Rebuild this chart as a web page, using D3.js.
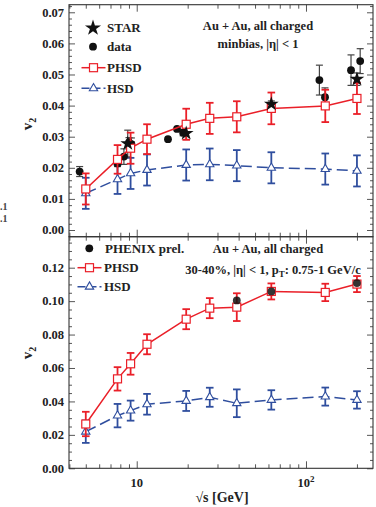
<!DOCTYPE html>
<html><head><meta charset="utf-8">
<script src="https://cdn.jsdelivr.net/npm/d3@7"></script>
<style>
html,body{margin:0;padding:0;background:#fff;}
svg{display:block;}
text{font-family:"Liberation Serif","Times New Roman",serif;font-weight:bold;fill:#222;}
</style></head>
<body>
<svg id="c" width="376" height="507"></svg>
<script>
// ---------- data ----------
const energies = [5, 7.7, 9.2, 11.5, 19.6, 27, 39, 62.4, 130, 200];
// top panel (minbias)
const topPHSD = [0.0132, 0.0227, 0.0263, 0.0292, 0.0340, 0.0359, 0.0364, 0.0391, 0.0399, 0.0423];
const topPHSDerr = [0.005, 0.0046, 0.005, 0.0048, 0.005, 0.005, 0.005, 0.0051, 0.0052, 0.005];
const topHSD = [0.0118, 0.0163, 0.0182, 0.0193, 0.0209, 0.0211, 0.0207, 0.0200, 0.0196, 0.0190];
const topHSDerr = [0.005, 0.0047, 0.005, 0.005, 0.005, 0.0051, 0.005, 0.005, 0.005, 0.005];
const dataE = [4.6, 7.7, 8.4, 9.0, 9.3, 15.3, 17.3, 18.8, 120, 129.5, 184.5, 209];
const dataV = [0.0188, 0.0214, 0.0236, 0.0282, 0.0276, 0.0292, 0.0325, 0.0313, 0.0482, 0.0427, 0.0514, 0.0543];
const dataErr = [0.0016, 0.001, 0.0025, 0.0015, 0.002, 0, 0, 0.001, 0.0048, 0.003, 0.0049, 0.004];
const starE = [8.85, 19.6, 62.4, 200];
const starV = [0.0278, 0.0311, 0.0405, 0.0485];
const starErr = [0.0043, 0.002, 0.001, 0.002];
// bottom panel (30-40%)
const botPHSD = [0.0265, 0.0535, 0.0625, 0.0742, 0.0892, 0.0958, 0.0964, 0.1058, 0.1052, 0.1102];
const botPHSDerr = [0.0073, 0.007, 0.0065, 0.006, 0.006, 0.006, 0.0083, 0.0048, 0.0052, 0.0048];
const botHSD = [0.0219, 0.0315, 0.0345, 0.0383, 0.0403, 0.0425, 0.0389, 0.0409, 0.0429, 0.0409];
const botHSDerr = [0.0067, 0.007, 0.006, 0.0062, 0.006, 0.0057, 0.0083, 0.0058, 0.0054, 0.0052];
const phenixE = [39, 62.4, 200];
const phenixV = [0.1004, 0.1058, 0.1108];
const topYTicks = [0, 0.01, 0.02, 0.03, 0.04, 0.05, 0.06, 0.07];
const botYTicks = [0, 0.02, 0.04, 0.06, 0.08, 0.10, 0.12];
const xLabels = [{v: 10, t: "10"}, {v: 100, t: "10", sup: "2"}];

// ---------- layout ----------
const RED = "#ea1f28", BLUE = "#2f4e9e";
const L = 69, R = 373;
const svg = d3.select("#c");
const x = d3.scaleLog().domain([3.98, 248.8]).range([L, R]);
const yTop = d3.scaleLinear().domain([-0.00215, 0.07244]).range([236.7, 4.7]);
const yBot = d3.scaleLinear().domain([0, 0.13854]).range([468.3, 236.7]);

const xMinor = [4,5,6,7,8,9,20,30,40,50,60,70,80,90,200];
const xMajor = [10, 100];

function frame(y, majors, minorStep, fmt) {
  const g = svg.append("g");
  const yMinor = d3.range(0, y.domain()[1], minorStep)
    .filter(v => !majors.some(m => Math.abs(m - v) < 1e-9));
  g.append("g").attr("transform", `translate(${L},0)`)
    .call(d3.axisRight(y).tickValues(yMinor).tickSize(3).tickFormat(""));
  g.append("g").attr("transform", `translate(${L},0)`)
    .call(d3.axisRight(y).tickValues(majors).tickSize(6).tickFormat(""));
  g.append("g").attr("transform", `translate(${R},0)`)
    .call(d3.axisLeft(y).tickValues(yMinor).tickSize(3).tickFormat(""));
  g.append("g").attr("transform", `translate(${R},0)`)
    .call(d3.axisLeft(y).tickValues(majors).tickSize(6).tickFormat(""));
  const by = y.range()[0], ty = y.range()[1];
  g.append("g").attr("transform", `translate(0,${by})`)
    .call(d3.axisTop(x).tickValues(xMinor).tickSize(4).tickFormat(""));
  g.append("g").attr("transform", `translate(0,${by})`)
    .call(d3.axisTop(x).tickValues(xMajor).tickSize(7).tickFormat(""));
  g.append("g").attr("transform", `translate(0,${ty})`)
    .call(d3.axisBottom(x).tickValues(xMinor).tickSize(4).tickFormat(""));
  g.append("g").attr("transform", `translate(0,${ty})`)
    .call(d3.axisBottom(x).tickValues(xMajor).tickSize(7).tickFormat(""));
  g.selectAll(".domain").remove();
  g.selectAll(".tick line").attr("stroke", "#444").attr("stroke-width", 0.9);
  g.append("rect").attr("x", L).attr("y", ty).attr("width", R - L).attr("height", by - ty)
    .attr("fill", "none").attr("stroke", "#333").attr("stroke-width", 1.1);
  g.selectAll("text.yl").data(majors).enter().append("text")
    .attr("x", L - 5).attr("y", d => y(d) + 4.3).attr("text-anchor", "end")
    .attr("font-size", 12.5).text(d => d3.format(fmt)(d));
}

frame(yTop, topYTicks, 0.002, ".2f");
frame(yBot, botYTicks, 0.005, ".2f");

xLabels.forEach(d => {
  const t = svg.append("text").attr("x", x(d.v)).attr("y", 487).attr("text-anchor", "middle")
    .attr("font-size", 12.5).text(d.t);
  if (d.sup) t.append("tspan").attr("dy", -5).attr("font-size", 9).text(d.sup);
});
svg.append("text").attr("x", 222).attr("y", 502).attr("text-anchor", "middle")
  .attr("font-size", 14).text("√s  [GeV]");

function yTitle(cy) {
  const t = svg.append("text").attr("transform", `translate(32,${cy}) rotate(-90)`)
    .attr("text-anchor", "middle").attr("font-size", 15).attr("font-weight", "normal");
  t.append("tspan").text("v");
  t.append("tspan").attr("dy", 4).attr("font-size", 10).text("2");
}
yTitle(124);
yTitle(353);

// leftover fragments at the left edge of the page
[209.5, 221.5].forEach(yy => svg.append("text").attr("x", 0).attr("y", yy).attr("font-size", 10)
  .attr("font-weight", "normal").attr("font-family", "DejaVu Sans").style("fill", "#444").text(".1"));

// ---------- helpers ----------
function errBars(g, xs, vs, es, y, color, cap, w) {
  xs.forEach((e, i) => {
    if (!es[i]) return;
    const cx = x(e), y1 = y(vs[i] - es[i]), y2 = y(vs[i] + es[i]);
    g.append("line").attr("x1", cx).attr("x2", cx).attr("y1", y1).attr("y2", y2)
      .attr("stroke", color).attr("stroke-width", w);
    [y1, y2].forEach(yy => g.append("line").attr("x1", cx - cap).attr("x2", cx + cap)
      .attr("y1", yy).attr("y2", yy).attr("stroke", color).attr("stroke-width", w));
  });
}
function model(y, vals, errs, color, kind) {
  const g = svg.append("g");
  errBars(g, energies, vals, errs, y, color, 3.8, 1.8);
  const line = d3.line().x((d, i) => x(energies[i])).y(d => y(d));
  g.append("path").attr("d", line(vals)).attr("fill", "none").attr("stroke", color)
    .attr("stroke-width", 1.5).attr("stroke-dasharray", kind === "tri" ? "11,5" : null);
  vals.forEach((v, i) => {
    if (kind === "sq") {
      g.append("rect").attr("x", x(energies[i]) - 4).attr("y", y(v) - 4).attr("width", 8).attr("height", 8)
        .attr("fill", "#fff").attr("stroke", color).attr("stroke-width", 1.2);
    } else {
      g.append("path").attr("d", d3.symbol().type(d3.symbolTriangle).size(30)())
        .attr("transform", `translate(${x(energies[i])},${y(v)})`)
        .attr("fill", "#fff").attr("stroke", color).attr("stroke-width", 1.1);
    }
  });
}

// ---------- top panel ----------
model(yTop, topHSD, topHSDerr, BLUE, "tri");
const gd = svg.append("g");
errBars(gd, dataE, dataV, dataErr, yTop, "#444", 3.5, 1.2);
errBars(gd, starE, starV, starErr, yTop, "#444", 3.5, 1.2);
dataE.forEach((e, i) => gd.append("circle").attr("cx", x(e)).attr("cy", yTop(dataV[i])).attr("r", 3.9).attr("fill", "#111"));
model(yTop, topPHSD, topPHSDerr, RED, "sq");
const starPath = d3.symbol().type(d3.symbolStar).size(68)();
starE.forEach((e, i) => svg.append("path").attr("d", starPath)
  .attr("transform", `translate(${x(e)},${yTop(starV[i])})`).attr("fill", "#111"));

// ---------- bottom panel ----------
model(yBot, botHSD, botHSDerr, BLUE, "tri");
model(yBot, botPHSD, botPHSDerr, RED, "sq");
phenixE.forEach((e, i) => svg.append("circle").attr("cx", x(e)).attr("cy", yBot(phenixV[i])).attr("r", 3.9)
  .attr("fill", "#111").attr("fill-opacity", 0.85));

// ---------- legends ----------
function legLine(cx, cy, color, kind) {
  svg.append("line").attr("x1", cx - 12).attr("x2", cx + 12).attr("y1", cy).attr("y2", cy)
    .attr("stroke", color).attr("stroke-width", 1.5).attr("stroke-dasharray", kind === "tri" ? "8,3" : null);
  if (kind === "sq") svg.append("rect").attr("x", cx - 4).attr("y", cy - 4).attr("width", 8).attr("height", 8)
    .attr("fill", "#fff").attr("stroke", color).attr("stroke-width", 1.2);
  else svg.append("path").attr("d", d3.symbol().type(d3.symbolTriangle).size(30)())
    .attr("transform", `translate(${cx},${cy})`).attr("fill", "#fff").attr("stroke", color).attr("stroke-width", 1.1);
}
function legText(tx, ty, s) { svg.append("text").attr("x", tx).attr("y", ty).attr("font-size", 13).text(s); }
svg.append("path").attr("d", d3.symbol().type(d3.symbolStar).size(80)()).attr("transform", "translate(93,28)").attr("fill", "#111");
legText(107, 32, "STAR");
svg.append("circle").attr("cx", 93).attr("cy", 46.7).attr("r", 3.9).attr("fill", "#111");
legText(107, 51, "data");
legLine(93.5, 67.7, RED, "sq"); legText(107, 72, "PHSD");
legLine(93.5, 88.3, BLUE, "tri"); legText(107, 92.5, "HSD");

svg.append("circle").attr("cx", 89.3).attr("cy", 248.3).attr("r", 3.9).attr("fill", "#111");
legText(105, 252.5, "PHENIX prel.");
legLine(89.5, 267.7, RED, "sq"); legText(104, 272, "PHSD");
legLine(89.5, 286.7, BLUE, "tri"); legText(104, 291, "HSD");

// ---------- annotations ----------
function ann(cx, cy, s, fs) { return svg.append("text").attr("x", cx).attr("y", cy).attr("text-anchor", "middle").attr("font-size", fs || 12.5).text(s); }
ann(258, 29.5, "Au + Au, all charged");
ann(258, 48, "minbias, |η| < 1");
ann(268, 252.5, "Au + Au, all charged");
const a = ann(273, 273.5, "30-40%, |η| < 1, p", 12.5);
a.append("tspan").attr("dy", 3).attr("font-size", 9).text("T");
a.append("tspan").attr("dy", -3).text(": 0.75-1 GeV/c");
</script>
</body></html>
